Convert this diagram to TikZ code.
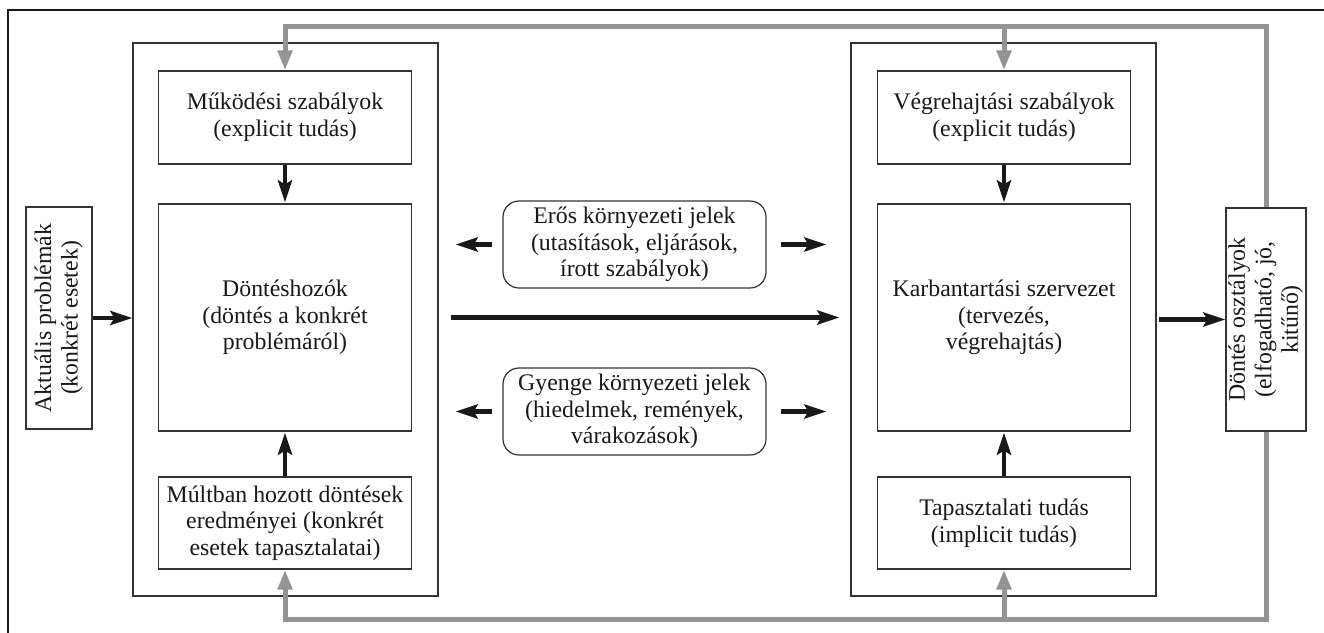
\documentclass[tikz,border=0pt]{standalone}
\usepackage{fontspec}
\setmainfont{Liberation Serif}
\usetikzlibrary{arrows.meta}
\newcommand{\upright}[1]{\rotatebox{90}{\begin{tabular}{@{}c@{}}#1\end{tabular}}}
\begin{document}
\begin{tikzpicture}[x=1pt,y=-1pt,
  every node/.style={font=\fontsize{23.8}{26.5}\selectfont, text=black!90},
  box/.style={draw=black!80, line width=1.2pt, fill=white, align=center, inner sep=0pt},
  container/.style={draw=black!80, line width=1.2pt, inner sep=0pt},
  signal/.style={box, rounded corners=16pt},
  flow/.style={line width=4.5pt, draw=black!90, -{Stealth[length=22pt,width=14pt,inset=4pt]}},
  feedback/.style={line width=5pt, draw=black!42, line join=miter, -{Triangle[length=20pt,width=14pt]}},
]
\useasboundingbox (0,0) rectangle (1324,632);
\clip (0,0) rectangle (1324,632);

% outer frame (its right and bottom sides lie beyond the page)
\draw[line width=1.5pt, black!90] (8,660) -- (8,10) -- (1340,10);

% two organisational blocks
\node[container, minimum width=305pt, minimum height=553pt] (L) at (285.5,319.5) {};
\node[container, minimum width=305pt, minimum height=553pt] (R) at (1003.5,319.5) {};

% left block
\node[box, minimum width=253pt, minimum height=93pt] (muk) at (285,117.5)
  {Működési szabályok\\(explicit tudás)};
\node[box, minimum width=253pt, minimum height=227pt] (dont) at (285,317.5)
  {Döntéshozók\\(döntés a konkrét\\problémáról)};
\node[box, minimum width=253pt, minimum height=92pt] (mult) at (285,523)
  {Múltban hozott döntések\\eredményei (konkrét\\esetek tapasztalatai)};

% right block
\node[box, minimum width=253pt, minimum height=93pt] (veg) at (1004,117.5)
  {Végrehajtási szabályok\\(explicit tudás)};
\node[box, minimum width=253pt, minimum height=227pt] (karb) at (1004,317.5)
  {Karbantartási szervezet\\(tervezés,\\végrehajtás)};
\node[box, minimum width=253pt, minimum height=92pt] (tap) at (1004,523)
  {Tapasztalati tudás\\(implicit tudás)};

% input and output, written upwards
\node[box, minimum width=66pt, minimum height=222pt] (akt) at (59,318)
  {\upright{Aktuális problémák\\(konkrét esetek)}};
\node[box, minimum width=80pt, minimum height=223pt] (dos) at (1266,319.5)
  {\upright{Döntés osztályok\\(elfogadható, jó,\\kitűnő)}};

% environmental signals
\node[signal, minimum width=263pt, minimum height=87pt] (eros) at (634.5,244.5)
  {Erős környezeti jelek\\(utasítások, eljárások,\\írott szabályok)};
\node[signal, minimum width=263pt, minimum height=87pt] (gyenge) at (634.5,411.5)
  {Gyenge környezeti jelek\\(hiedelmek, remények,\\várakozások)};

% feedback loop
\coordinate (gtop) at (0,26);
\coordinate (gbot) at (0,619);
\draw[feedback] (dos.north) |- (muk.north |- gtop) -- (muk.north);
\draw[feedback] (veg.north |- gtop) -- (veg.north);
\draw[feedback] (dos.south) |- (mult.south |- gbot) -- (mult.south);
\draw[feedback] (tap.south |- gbot) -- (tap.south);

% main flows
\draw[flow] (akt.east) -- (akt.east -| L.west);
\draw[flow, shorten >=1pt] (muk.south) -- (dont.north);
\draw[flow, shorten >=1pt] (mult.north) -- (dont.south);
\draw[flow, shorten >=1pt] (veg.south) -- (karb.north);
\draw[flow, shorten >=1pt] (tap.north) -- (karb.south);
\draw[flow, shorten <=12pt, shorten >=11pt] (dont.east -| L.east) -- (dont.east -| R.west);
\draw[flow, shorten <=2pt] (R.east |- dos.west) -- (dos.west);

% signals pointing to both blocks
\draw[flow, shorten <=10pt, shorten >=17pt] (eros.west) -- (eros.west -| L.east);
\draw[flow, shorten <=14pt, shorten >=24pt] (eros.east) -- (eros.east -| R.west);
\draw[flow, shorten <=10pt, shorten >=17pt] (gyenge.west) -- (gyenge.west -| L.east);
\draw[flow, shorten <=14pt, shorten >=24pt] (gyenge.east) -- (gyenge.east -| R.west);
\end{tikzpicture}
\end{document}
